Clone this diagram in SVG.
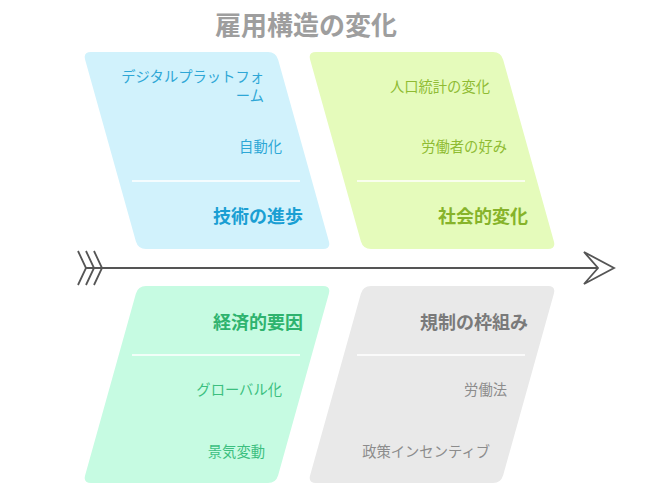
<svg xmlns="http://www.w3.org/2000/svg" width="646" height="495" viewBox="0 0 646 495">
<style>
text{font-family:"Noto Sans CJK JP","Noto Sans",sans-serif;text-anchor:end}
.it{font-size:14.3px}
.hd{font-size:18px;font-weight:bold}
.div{stroke:#ffffff;stroke-width:1.5}
.blue .it{fill:#2ea7d6}.blue .hd{fill:#1a9fd3}
.green .it{fill:#8fbb33}.green .hd{fill:#86b32a}
.mint .it{fill:#3cbf7f}.mint .hd{fill:#2eb36e}
.gray .it{fill:#8c8c8c}.gray .hd{fill:#7a7a7a}
</style>
<rect width="646" height="495" fill="#ffffff"/>
<text x="306" y="35" style="font-size:26px;font-weight:bold;fill:#9e9e9e;text-anchor:middle">雇用構造の変化</text>

<g id="tech" class="blue">
<path d="M91,52 L268,52 Q276,52 278.15,59.7 L328.85,241.3 Q331,249 323,249 L146,249 Q138,249 135.85,241.3 L85.15,59.7 Q83,52 91,52 Z" fill="#d1f2fc"/>
<text class="it" x="264" y="82">デジタルプラットフォ</text>
<text class="it" x="264" y="101">ーム</text>
<text class="it" x="282" y="152">自動化</text>
<line class="div" x1="132" y1="181" x2="300" y2="181"/>
<text class="hd" x="303" y="223">技術の進歩</text>
</g>

<g id="social" class="green">
<path d="M316,52 L493,52 Q501,52 503.15,59.7 L553.85,241.3 Q556,249 548,249 L371,249 Q363,249 360.85,241.3 L310.15,59.7 Q308,52 316,52 Z" fill="#e5fbbb"/>
<text class="it" x="490" y="92">人口統計の変化</text>
<text class="it" x="507" y="152">労働者の好み</text>
<line class="div" x1="357" y1="181" x2="525" y2="181"/>
<text class="hd" x="528" y="223">社会的変化</text>
</g>

<g id="econ" class="mint">
<path d="M146,286 L323,286 Q331,286 328.85,293.7 L278.15,475.3 Q276,483 268,483 L91,483 Q83,483 85.15,475.3 L135.85,293.7 Q138,286 146,286 Z" fill="#c6fbe2"/>
<text class="hd" x="303" y="329">経済的要因</text>
<line class="div" x1="132" y1="355" x2="300" y2="355"/>
<text class="it" x="282" y="395">グローバル化</text>
<text class="it" x="265" y="457">景気変動</text>
</g>

<g id="reg" class="gray">
<path d="M371,286 L548,286 Q556,286 553.85,293.7 L503.15,475.3 Q501,483 493,483 L316,483 Q308,483 310.15,475.3 L360.85,293.7 Q363,286 371,286 Z" fill="#e9e9e9"/>
<text class="hd" x="528" y="329">規制の枠組み</text>
<line class="div" x1="357" y1="355" x2="525" y2="355"/>
<text class="it" x="507" y="395">労働法</text>
<text class="it" x="490" y="457">政策インセンティブ</text>
</g>

<g id="connectors" fill="none" stroke="#555555" stroke-width="1.8" stroke-linejoin="miter">
<line x1="86" y1="268" x2="598" y2="268"/>
<polyline points="78,251 86,268 78,285"/>
<polyline points="86,251 94,268 86,285"/>
<polyline points="94,251 102,268 94,285"/>
<path d="M584,252 L614,268 L584,284 L598,268 Z"/>
</g>
</svg>
